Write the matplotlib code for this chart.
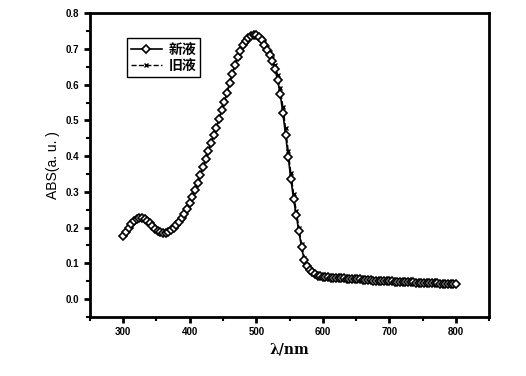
import numpy as np
import matplotlib.pyplot as plt
from matplotlib.ticker import MultipleLocator

plt.rcParams['font.family'] = ['Liberation Sans', 'Noto Sans CJK SC', 'DejaVu Sans']

# wavelength, nm (4 nm steps, 300-800)
wavelength = np.arange(300, 801, 4)

abs_new = [
    0.177, 0.189, 0.200, 0.210, 0.218, 0.224, 0.227, 0.227, 0.224, 0.219,   # 300-336
    0.212, 0.204, 0.196, 0.190, 0.187, 0.185, 0.186, 0.189, 0.194, 0.200,   # 340-376
    0.208, 0.217, 0.227, 0.238, 0.252, 0.268, 0.286, 0.306, 0.326, 0.347,   # 380-416
    0.370, 0.392, 0.414, 0.436, 0.458, 0.480, 0.504, 0.528, 0.552, 0.578,   # 420-456
    0.604, 0.631, 0.655, 0.676, 0.694, 0.710, 0.722, 0.731, 0.737, 0.740,   # 460-496
    0.738, 0.733, 0.724, 0.712, 0.698, 0.682, 0.665, 0.644, 0.614, 0.573,   # 500-536
    0.520, 0.460, 0.397, 0.336, 0.281, 0.235, 0.190, 0.145, 0.110, 0.092,   # 540-576
    0.082, 0.075, 0.070, 0.066, 0.064, 0.062,                               # 580-600
    0.061, 0.061, 0.060, 0.060, 0.059, 0.059, 0.058, 0.058, 0.057, 0.057,   # 604-640
    0.056, 0.056, 0.055, 0.055, 0.054, 0.054, 0.053, 0.053, 0.052, 0.052,   # 644-680
    0.052, 0.051, 0.051, 0.050, 0.050, 0.050, 0.049, 0.049, 0.048, 0.048,   # 684-720
    0.048, 0.047, 0.047, 0.047, 0.046, 0.046, 0.046, 0.045, 0.045, 0.045,   # 724-760
    0.044, 0.044, 0.044, 0.043, 0.043, 0.043, 0.042, 0.042, 0.042, 0.041,   # 764-800
]

abs_old = [
    0.178, 0.190, 0.201, 0.211, 0.219, 0.225, 0.228, 0.228, 0.225, 0.220,
    0.213, 0.205, 0.197, 0.191, 0.188, 0.186, 0.187, 0.190, 0.195, 0.201,
    0.209, 0.218, 0.228, 0.239, 0.253, 0.269, 0.287, 0.307, 0.327, 0.348,
    0.371, 0.393, 0.415, 0.437, 0.459, 0.481, 0.505, 0.529, 0.553, 0.579,
    0.605, 0.632, 0.656, 0.677, 0.695, 0.711, 0.723, 0.732, 0.738, 0.741,
    0.740, 0.736, 0.728, 0.717, 0.704, 0.690, 0.674, 0.655, 0.628, 0.590,
    0.538, 0.478, 0.414, 0.352, 0.295, 0.247, 0.200, 0.153, 0.116, 0.096,
    0.085, 0.077, 0.071, 0.067, 0.065, 0.063,
    0.061, 0.061, 0.060, 0.060, 0.059, 0.059, 0.058, 0.058, 0.057, 0.057,
    0.056, 0.056, 0.055, 0.055, 0.054, 0.054, 0.053, 0.053, 0.052, 0.052,
    0.052, 0.051, 0.051, 0.050, 0.050, 0.050, 0.049, 0.049, 0.048, 0.048,
    0.048, 0.047, 0.047, 0.047, 0.046, 0.046, 0.046, 0.045, 0.045, 0.045,
    0.044, 0.044, 0.044, 0.043, 0.043, 0.043, 0.042, 0.042, 0.042, 0.041,
]

fig = plt.figure(figsize=(5.26, 3.76), dpi=100)
ax = fig.add_axes([0.171, 0.157, 0.759, 0.808])

ax.plot(wavelength, abs_old, linestyle='--', color='black', linewidth=1,
        marker='x', markersize=3.5, markeredgewidth=1, label='旧液')
ax.plot(wavelength, abs_new, linestyle='-', color='black', linewidth=1.2,
        marker='D', markersize=4, markerfacecolor='white', markeredgecolor='black',
        markeredgewidth=1.2, label='新液')

ax.set_xlim(250, 850)
ax.set_ylim(-0.05, 0.8)
ax.xaxis.set_major_locator(MultipleLocator(100))
ax.xaxis.set_minor_locator(MultipleLocator(50))
ax.yaxis.set_major_locator(MultipleLocator(0.1))
ax.yaxis.set_minor_locator(MultipleLocator(0.05))
ax.set_xticks(np.arange(300, 801, 100))
ax.set_yticks(np.arange(0, 0.81, 0.1))
ax.set_yticklabels(['%.1f' % v for v in np.arange(0, 0.81, 0.1)])

for s in ax.spines.values():
    s.set_linewidth(2)
ax.tick_params(which='major', direction='out', length=4, width=2, labelsize=7)
ax.tick_params(which='minor', direction='out', length=3, width=1.5)
for lab in ax.get_xticklabels() + ax.get_yticklabels():
    lab.set_fontweight('bold')

ax.set_xlabel('λ/nm', fontsize=10, fontweight='bold', family=['DejaVu Serif'])
ax.set_ylabel('ABS(a. u. )', fontsize=10, family=['Liberation Sans Narrow', 'Liberation Sans'])

handles, labels = ax.get_legend_handles_labels()
leg = ax.legend(handles[::-1], labels[::-1], loc='upper left', bbox_to_anchor=(0.075, 0.94),
                fancybox=False, edgecolor='black', framealpha=1, handlelength=2.2,
                borderpad=0.3, labelspacing=0.2, handletextpad=0.5,
                prop={'family': ['Noto Sans CJK SC'], 'weight': 'bold', 'size': 10})
leg.get_frame().set_linewidth(1)

fig.savefig('out.png', dpi=100)
